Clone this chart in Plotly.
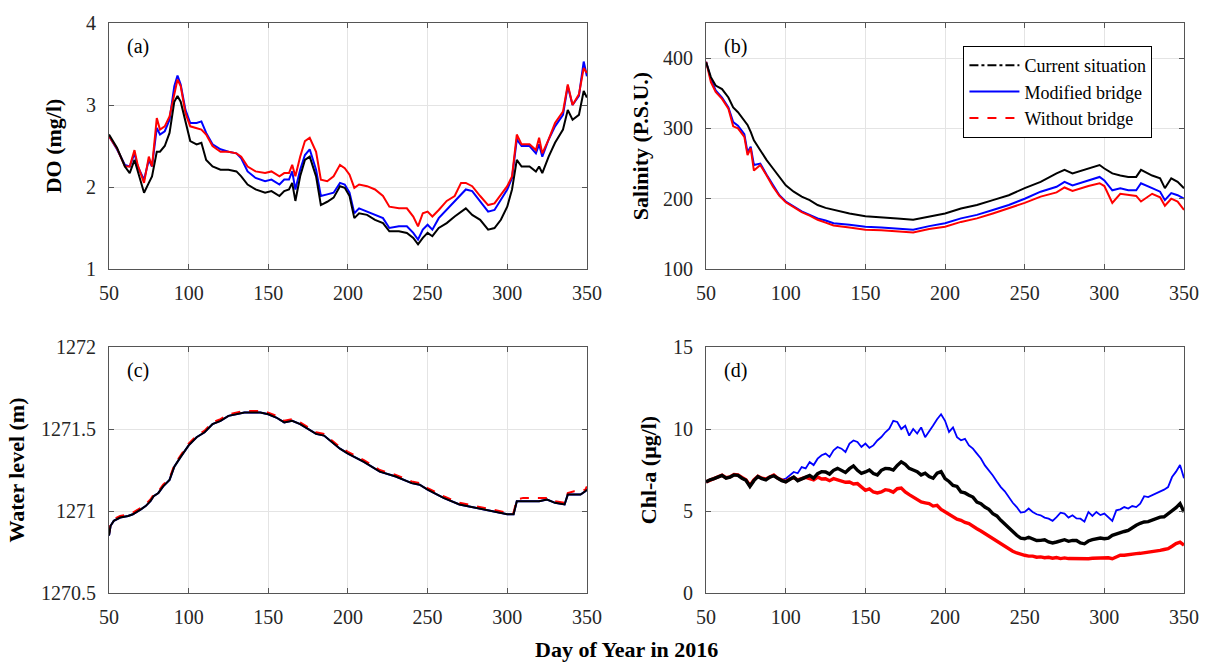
import plotly.graph_objects as go

# ---------------- Data ----------------
# (a) Dissolved oxygen
a_days = [50, 55, 60, 63, 66, 68, 72, 75, 77, 80, 82, 85, 88, 91, 93, 95, 98, 101, 105, 108,
          111, 115, 120, 125, 130, 133, 137, 142, 148, 152, 157, 160, 163, 165, 167, 170, 173, 176, 180, 183,
          187, 191, 195, 198, 201, 204, 207, 212, 217, 222, 226, 232, 237, 241, 244, 247, 250, 253, 257, 262,
          267, 271, 274, 278, 283, 288, 292, 296, 300, 303, 306, 309, 314, 318, 320, 322, 326, 330, 335, 338,
          341, 345, 348, 350]
do_current = [2.64, 2.48, 2.25, 2.17, 2.33, 2.19, 1.93, 2.05, 2.13, 2.43, 2.43, 2.50, 2.66, 3.04, 3.11, 3.04, 2.78, 2.56, 2.52, 2.54,
              2.33, 2.25, 2.21, 2.21, 2.19, 2.13, 2.03, 1.97, 1.93, 1.95, 1.89, 1.95, 1.97, 2.05, 1.83, 2.13, 2.33, 2.37, 2.13, 1.78,
              1.82, 1.87, 2.01, 1.99, 1.89, 1.62, 1.68, 1.66, 1.60, 1.56, 1.46, 1.46, 1.44, 1.38, 1.30, 1.38, 1.44, 1.40, 1.50, 1.56,
              1.64, 1.70, 1.74, 1.66, 1.60, 1.48, 1.50, 1.60, 1.76, 1.97, 2.33, 2.25, 2.25, 2.19, 2.25, 2.17, 2.37, 2.54, 2.70, 2.94,
              2.82, 2.88, 3.17, 3.09]
do_modified = [2.62, 2.46, 2.27, 2.25, 2.41, 2.25, 2.09, 2.33, 2.25, 2.72, 2.64, 2.68, 2.82, 3.23, 3.36, 3.25, 2.94, 2.78, 2.78, 2.80,
               2.66, 2.52, 2.46, 2.43, 2.41, 2.35, 2.19, 2.11, 2.07, 2.09, 2.03, 2.09, 2.09, 2.19, 1.97, 2.21, 2.39, 2.46, 2.21, 1.89,
               1.91, 1.93, 2.05, 2.03, 1.93, 1.68, 1.74, 1.70, 1.66, 1.62, 1.50, 1.52, 1.52, 1.44, 1.36, 1.48, 1.54, 1.48, 1.62, 1.72,
               1.83, 1.91, 1.97, 1.95, 1.83, 1.70, 1.72, 1.85, 1.97, 2.11, 2.58, 2.50, 2.50, 2.41, 2.52, 2.37, 2.58, 2.74, 2.88, 3.23,
               3.00, 3.11, 3.53, 3.35]
do_without = [2.62, 2.47, 2.25, 2.25, 2.45, 2.27, 2.05, 2.37, 2.25, 2.84, 2.70, 2.74, 2.86, 3.15, 3.31, 3.23, 2.90, 2.74, 2.72, 2.70,
              2.64, 2.50, 2.43, 2.43, 2.41, 2.37, 2.25, 2.19, 2.17, 2.19, 2.13, 2.17, 2.17, 2.27, 2.13, 2.37, 2.56, 2.60, 2.43, 2.09,
              2.07, 2.13, 2.27, 2.23, 2.15, 1.99, 2.03, 2.01, 1.97, 1.89, 1.76, 1.74, 1.74, 1.64, 1.52, 1.68, 1.70, 1.64, 1.72, 1.83,
              1.89, 2.05, 2.05, 2.01, 1.89, 1.78, 1.80, 1.91, 2.01, 2.13, 2.64, 2.52, 2.52, 2.45, 2.60, 2.41, 2.58, 2.78, 2.92, 3.25,
              3.00, 3.13, 3.45, 3.39]

# (b) Salinity
b_days = [50, 53, 56, 60, 64, 67, 70, 74, 76, 78, 80, 84, 88, 92, 96, 100, 105, 110, 115, 120,
          125, 130, 140, 150, 160, 170, 180, 190, 200, 210, 220, 230, 240, 250, 260, 270, 275, 280, 290, 297,
          300, 305, 310, 315, 320, 323, 330, 335, 338, 342, 346, 350]
sal_current = [394, 373, 361, 356, 344, 330, 323, 311, 305, 295, 283, 269, 255, 243, 231, 219, 210, 203, 198, 191,
               187, 184, 179, 175, 174, 172, 170, 174, 179, 186, 191, 198, 205, 215, 224, 236, 241, 236, 243, 248,
               243, 236, 233, 231, 231, 241, 233, 229, 215, 229, 224, 215]
sal_modified = [395, 370, 354, 344, 330, 309, 304, 292, 266, 274, 248, 250, 234, 219, 205, 196, 189, 182, 177, 172,
                169, 165, 163, 160, 159, 158, 156, 161, 165, 172, 177, 184, 191, 200, 210, 217, 224, 219, 226, 231,
                226, 212, 215, 212, 212, 222, 215, 210, 198, 208, 205, 200]
sal_without = [395, 366, 352, 342, 328, 303, 300, 288, 262, 272, 240, 248, 233, 217, 204, 195, 188, 181, 176, 170,
               166, 162, 159, 156, 155, 154, 152, 157, 160, 167, 172, 179, 186, 194, 203, 209, 216, 211, 218, 222,
               218, 194, 207, 205, 204, 196, 207, 202, 190, 200, 196, 184]

# (c) Water level
c_days = [50, 51, 53, 57, 62, 65, 70, 73, 76, 78, 81, 84, 88, 91, 95, 100, 105, 110, 115, 120,
          125, 130, 135, 140, 145, 150, 155, 160, 165, 170, 175, 180, 185, 190, 195, 200, 210, 220, 230, 240,
          245, 250, 260, 270, 280, 290, 300, 304, 306, 310, 320, 325, 330, 336, 338, 342, 346, 349, 350]
wl_current = [1270.85, 1270.91, 1270.94, 1270.96, 1270.97, 1270.98, 1271.01, 1271.03, 1271.06, 1271.09, 1271.11, 1271.15, 1271.19, 1271.27, 1271.33, 1271.40, 1271.45, 1271.48, 1271.53, 1271.55,
              1271.58, 1271.59, 1271.60, 1271.60, 1271.60, 1271.59, 1271.57, 1271.54, 1271.55, 1271.53, 1271.50, 1271.47, 1271.46, 1271.42, 1271.38, 1271.35, 1271.30, 1271.24, 1271.21, 1271.17,
              1271.16, 1271.13, 1271.08, 1271.04, 1271.02, 1271.00, 1270.98, 1270.98, 1271.06, 1271.06, 1271.06, 1271.07, 1271.05, 1271.04, 1271.10, 1271.10, 1271.10, 1271.12, 1271.13]
wl_modified = [1270.85, 1270.91, 1270.94, 1270.96, 1270.97, 1270.98, 1271.01, 1271.03, 1271.06, 1271.09, 1271.11, 1271.15, 1271.19, 1271.27, 1271.33, 1271.40, 1271.45, 1271.48, 1271.53, 1271.55,
               1271.58, 1271.59, 1271.60, 1271.60, 1271.60, 1271.59, 1271.57, 1271.54, 1271.55, 1271.53, 1271.50, 1271.47, 1271.46, 1271.42, 1271.38, 1271.35, 1271.30, 1271.24, 1271.21, 1271.17,
               1271.16, 1271.13, 1271.08, 1271.04, 1271.02, 1271.00, 1270.98, 1270.98, 1271.06, 1271.06, 1271.06, 1271.07, 1271.05, 1271.04, 1271.10, 1271.10, 1271.10, 1271.12, 1271.13]
wl_without = [1270.86, 1270.92, 1270.95, 1270.97, 1270.98, 1270.99, 1271.02, 1271.04, 1271.07, 1271.10, 1271.12, 1271.16, 1271.20, 1271.28, 1271.34, 1271.41, 1271.46, 1271.49, 1271.54, 1271.56,
              1271.59, 1271.60, 1271.61, 1271.61, 1271.61, 1271.60, 1271.58, 1271.55, 1271.56, 1271.54, 1271.51, 1271.48, 1271.47, 1271.43, 1271.39, 1271.36, 1271.31, 1271.25, 1271.22, 1271.18,
              1271.17, 1271.14, 1271.09, 1271.05, 1271.03, 1271.01, 1270.99, 1270.99, 1271.07, 1271.08, 1271.08, 1271.08, 1271.06, 1271.05, 1271.11, 1271.12, 1271.12, 1271.13, 1271.15]

# (d) Chlorophyll-a
d_days = [50, 52.5, 55, 57.5, 60, 62.5, 65, 67.5, 70, 72.5, 75, 77.5, 80, 82.5, 85, 87.5, 90, 92.5, 95, 97.5,
          100, 102.5, 105, 107.5, 110, 112.5, 115, 117.5, 120, 122.5, 125, 127.5, 130, 132.5, 135, 137.5, 140, 142.5, 145, 147.5,
          150, 152.5, 155, 157.5, 160, 162.5, 165, 167.5, 170, 172.5, 175, 177.5, 180, 182.5, 185, 187.5, 190, 192.5, 195, 197.5,
          200, 202.5, 205, 207.5, 210, 212.5, 215, 217.5, 220, 222.5, 225, 227.5, 230, 232.5, 235, 237.5, 240, 242.5, 245, 247.5,
          250, 252.5, 255, 257.5, 260, 262.5, 265, 267.5, 270, 272.5, 275, 277.5, 280, 282.5, 285, 287.5, 290, 292.5, 295, 297.5,
          300, 302.5, 305, 307.5, 310, 312.5, 315, 317.5, 320, 322.5, 325, 327.5, 330, 332.5, 335, 337.5, 340, 342.5, 345, 347.5,
          350]
chl_current = [6.77, 6.90, 6.97, 7.05, 7.17, 7.00, 7.07, 7.20, 7.17, 7.00, 6.87, 6.50, 6.85, 7.10, 6.97, 6.90, 7.07, 7.15, 6.97, 6.85,
               6.77, 6.95, 7.07, 6.85, 6.97, 7.10, 7.17, 7.00, 7.28, 7.40, 7.38, 7.25, 7.48, 7.60, 7.48, 7.35, 7.58, 7.75, 7.48, 7.30,
               7.38, 7.50, 7.28, 7.20, 7.48, 7.60, 7.58, 7.50, 7.78, 8.00, 7.85, 7.60, 7.50, 7.40, 7.20, 7.30, 7.10, 7.00, 7.30, 7.40,
               6.97, 6.80, 6.56, 6.50, 6.16, 6.10, 5.96, 5.85, 5.55, 5.45, 5.24, 5.10, 4.84, 4.70, 4.43, 4.20, 3.92, 3.70, 3.52, 3.35,
               3.31, 3.40, 3.31, 3.20, 3.21, 3.25, 3.11, 3.05, 3.11, 3.20, 3.25, 3.15, 3.21, 3.20, 3.05, 3.00, 3.17, 3.25, 3.31, 3.35,
               3.31, 3.35, 3.52, 3.60, 3.72, 3.75, 3.82, 4.00, 4.13, 4.25, 4.33, 4.35, 4.43, 4.50, 4.63, 4.65, 4.84, 5.00, 5.20, 5.45,
               4.94]
chl_modified = [6.75, 6.92, 6.95, 7.08, 7.15, 7.02, 7.05, 7.22, 7.15, 7.02, 6.85, 6.55, 6.88, 7.08, 6.95, 6.92, 7.05, 7.18, 7.00, 6.90,
                6.97, 7.20, 7.38, 7.30, 7.68, 7.60, 7.99, 7.80, 8.19, 8.40, 8.50, 8.30, 8.70, 8.90, 8.80, 8.60, 9.11, 9.30, 9.21, 8.90,
                9.11, 8.85, 9.00, 9.30, 9.51, 9.80, 10.02, 10.50, 10.43, 10.00, 10.20, 9.60, 10.00, 9.72, 10.10, 9.50, 9.90, 10.22, 10.60, 10.90,
                10.50, 9.82, 10.10, 9.50, 9.31, 9.40, 9.00, 8.80, 8.50, 8.20, 7.78, 7.50, 7.17, 6.80, 6.46, 6.20, 5.85, 5.50, 5.24, 4.90,
                4.94, 5.15, 4.94, 4.80, 4.74, 4.60, 4.53, 4.40, 4.63, 4.90, 4.84, 4.60, 4.74, 4.55, 4.53, 4.35, 4.94, 4.70, 4.94, 4.75,
                4.84, 4.60, 4.40, 5.04, 5.10, 5.24, 5.15, 5.30, 5.24, 5.45, 5.90, 5.85, 5.96, 6.10, 6.16, 6.30, 6.46, 7.07, 7.40, 7.80,
                7.00]
chl_without = [6.78, 6.88, 6.98, 7.06, 7.18, 7.03, 7.08, 7.22, 7.20, 7.05, 6.90, 6.55, 6.90, 7.12, 7.00, 6.95, 7.10, 7.20, 7.00, 6.90,
               6.80, 6.95, 7.05, 6.90, 7.00, 7.05, 6.97, 6.90, 7.07, 6.95, 6.97, 6.85, 6.97, 6.90, 6.87, 6.75, 6.77, 6.65, 6.67, 6.45,
               6.26, 6.35, 6.16, 6.10, 6.16, 6.30, 6.26, 6.15, 6.36, 6.40, 6.16, 6.00, 5.85, 5.70, 5.55, 5.50, 5.45, 5.30, 5.34, 5.10,
               4.94, 4.80, 4.63, 4.50, 4.43, 4.30, 4.23, 4.05, 3.92, 3.78, 3.62, 3.45, 3.31, 3.15, 3.01, 2.85, 2.70, 2.55, 2.44, 2.35,
               2.30, 2.25, 2.25, 2.18, 2.20, 2.15, 2.18, 2.12, 2.16, 2.10, 2.14, 2.10, 2.09, 2.10, 2.08, 2.06, 2.09, 2.12, 2.14, 2.15,
               2.16, 2.15, 2.09, 2.20, 2.30, 2.30, 2.35, 2.38, 2.40, 2.42, 2.45, 2.48, 2.50, 2.55, 2.60, 2.65, 2.70, 2.85, 3.01, 3.10,
               2.91]

series_names = ["Current situation", "Modified bridge", "Without bridge"]
x_ticks = [50, 100, 150, 200, 250, 300, 350]
y_ticks_a = [1, 2, 3, 4]
y_ticks_b = [100, 200, 300, 400]
y_ticks_c = [1270.5, 1271, 1271.5, 1272]
y_ticklabels_c = ["1270.5", "1271", "1271.5", "1272"]
y_ticks_d = [0, 5, 10, 15]
panel_labels = ["(a)", "(b)", "(c)", "(d)"]
y_titles = ["DO (mg/l)", "Salinity (P.S.U.)", "Water level (m)", "Chl-a (\u03bcg/l)"]
x_title = "Day of Year in 2016"

# ---------------- Figure ----------------
W, H = 1211, 663
ML, MR, MT, MB = 109, 20, 23, 70
FONT = "Liberation Serif, Times New Roman, serif"
BLACK, BLUE, RED = "#000000", "#0000ff", "#ff0000"

fig = go.Figure()

panels = [
    ("x", "y", a_days, [do_modified, do_without, do_current], 2.0),
    ("x2", "y2", b_days, [sal_modified, sal_without, sal_current], 2.0),
    ("x3", "y3", c_days, [wl_modified, wl_without, wl_current], 2.0),
    ("x4", "y4", d_days, [chl_modified, chl_without, chl_current], 1.8),
]
colors = [BLUE, RED, BLACK]
for xa, ya, days, ys, w in panels:
    for yv, col in zip(ys, colors):
        dash = "solid"
        width = w
        if xa == "x3" and col == RED:
            dash = "dash"
        if xa == "x4" and col != BLUE:
            width = 3.4
        fig.add_trace(go.Scatter(x=days, y=yv, mode="lines", xaxis=xa, yaxis=ya,
                                 line=dict(color=col, width=width, dash=dash),
                                 showlegend=False, hoverinfo="skip"))

# legend entries (panel b)
for name, col, dash in zip(series_names, [BLACK, BLUE, RED], ["dashdot", "solid", "dash"]):
    fig.add_trace(go.Scatter(x=[None], y=[None], mode="lines", xaxis="x2", yaxis="y2",
                             name=name, line=dict(color=col, width=2, dash=dash),
                             showlegend=True))

pw = W - ML - MR
ph = H - MT - MB
dom_left = [0, (590 - ML) / pw]
dom_right = [(710 - ML) / pw, 1]
dom_top = [(H - MB - 269) / ph, 1]
dom_bot = [0, (H - MB - 347) / ph]

axis_common = dict(showline=True, linecolor="#555555", linewidth=1, mirror="ticks",
                   ticks="inside", ticklen=5, tickcolor="#555555",
                   showgrid=True, gridcolor="#e4e4e4", gridwidth=1, zeroline=False,
                   tickfont=dict(family=FONT, size=20, color="#262626"))
title_font = dict(family=FONT, size=22, color="#000000", weight="bold")

def xaxis(domain, anchor):
    return dict(axis_common, domain=domain, anchor=anchor, range=[50, 350],
                tickvals=x_ticks, ticklabelstandoff=6)

def yaxis(domain, anchor, rng, tickvals, title, standoff, ticktext=None):
    d = dict(axis_common, domain=domain, anchor=anchor, range=rng, tickvals=tickvals,
             ticklabelstandoff=8,
             title=dict(text=title, font=title_font, standoff=standoff))
    if ticktext is not None:
        d["ticktext"] = ticktext
    return d

fig.update_layout(
    width=W, height=H,
    margin=dict(l=ML, r=MR, t=MT, b=MB),
    paper_bgcolor="white", plot_bgcolor="white",
    font=dict(family=FONT, color="#000000"),
    xaxis=xaxis(dom_left, "y"),
    yaxis=yaxis(dom_top, "x", [1, 4], y_ticks_a, y_titles[0], 18),
    xaxis2=xaxis(dom_right, "y2"),
    yaxis2=yaxis(dom_top, "x2", [100, 450], y_ticks_b, y_titles[1], 8),
    xaxis3=xaxis(dom_left, "y3"),
    yaxis3=yaxis(dom_bot, "x3", [1270.5, 1272], y_ticks_c, y_titles[2], 10, y_ticklabels_c),
    xaxis4=xaxis(dom_right, "y4"),
    yaxis4=yaxis(dom_bot, "x4", [0, 15], y_ticks_d, y_titles[3], 10),
    legend=dict(x=(969 - ML) / pw, y=(H - MB - 46) / ph, xanchor="left", yanchor="top",
                bgcolor="white", bordercolor="#000000", borderwidth=1,
                font=dict(family=FONT, size=18, color="#000000"),
                itemwidth=50, tracegroupgap=0),
    showlegend=True,
)

for i, lab in enumerate(panel_labels):
    sfx = "" if i == 0 else str(i + 1)
    fig.add_annotation(text=lab, xref=f"x{sfx} domain", yref=f"y{sfx} domain",
                       x=16 / 481, y=1 - 23 / 246, xanchor="left", yanchor="middle",
                       showarrow=False, font=dict(family=FONT, size=20, color="#000000"))

fig.add_annotation(text=x_title, xref="paper", yref="paper",
                   x=(630 - ML) / pw, y=(H - MB - 649) / ph, xanchor="center", yanchor="middle",
                   showarrow=False, font=title_font)

fig.write_html("out.html", config={"displayModeBar": False},
               post_script="document.body.style.margin='0';document.body.style.overflow='hidden';")
